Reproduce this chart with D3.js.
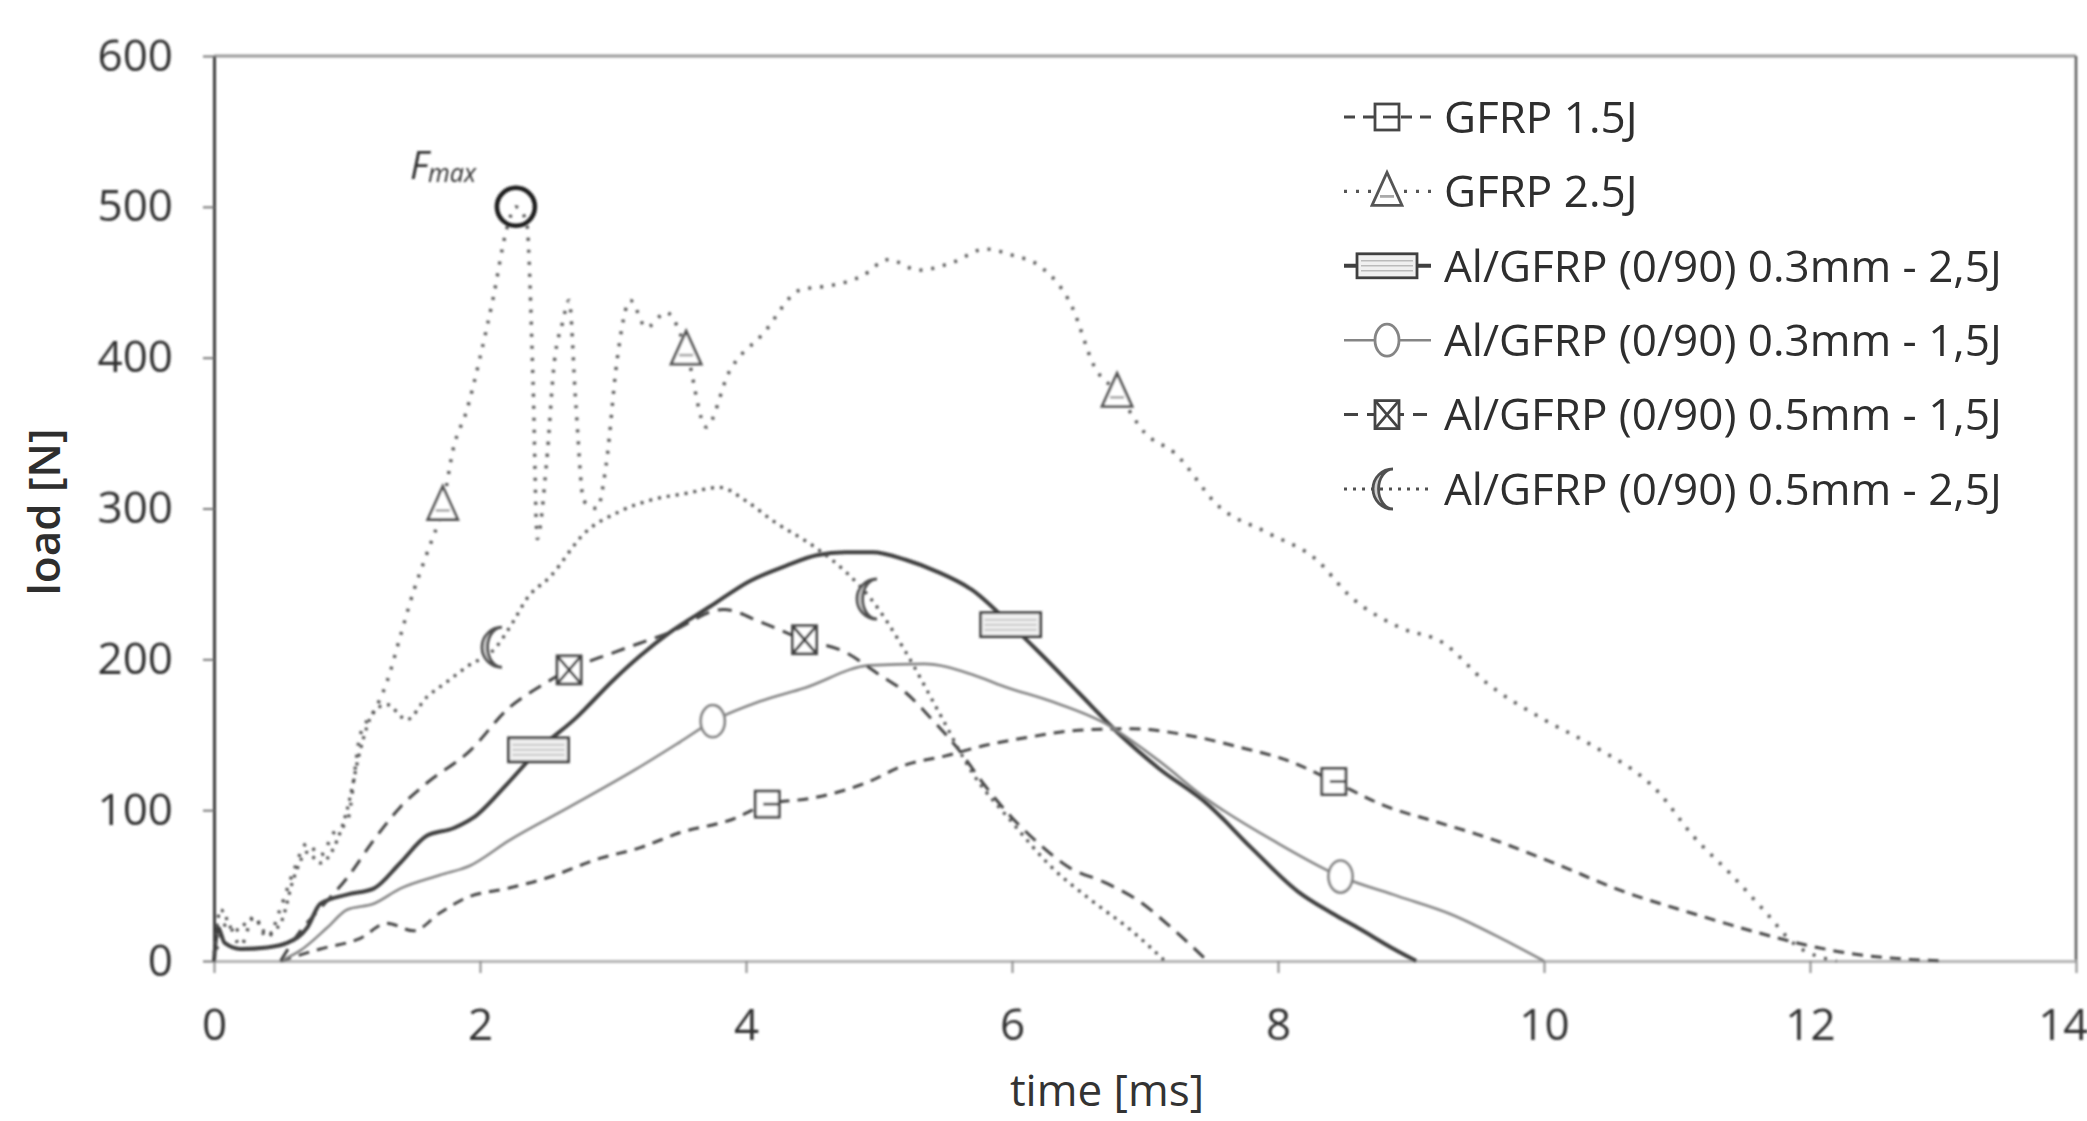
<!DOCTYPE html>
<html>
<head>
<meta charset="utf-8">
<script src="https://cdn.jsdelivr.net/npm/d3@7"></script>
<style>
  body { margin: 0; background: #fff; }
  svg { display: block; font-family: "Open Sans", sans-serif; }
</style>
</head>
<body>
<script>
// load [N] over time [ms]
const seriesNames = [
    "GFRP 1.5J",
    "GFRP 2.5J",
    "Al/GFRP (0/90) 0.3mm - 2,5J",
    "Al/GFRP (0/90) 0.3mm - 1,5J",
    "Al/GFRP (0/90) 0.5mm - 1,5J",
    "Al/GFRP (0/90) 0.5mm - 2,5J"
];

const gfrp15 = [[0.5,0],[0.8,8],[1.1,15],[1.3,25],[1.5,20],[1.7,32],[1.9,42],[2.2,48],[2.5,55],[2.9,68],[3.2,75],[3.5,85],[3.9,94],[4.16,104],[4.5,108],[4.9,118],[5.2,130],[5.5,136],[5.8,143],[6.1,148],[6.5,153],[6.9,154],[7.3,150],[7.7,142],[8.1,132],[8.42,119],[8.8,103],[9.2,92],[9.6,81],[10.1,64],[10.6,46],[11.1,32],[11.6,19],[12.0,10],[12.3,5],[12.6,2],[13.0,0]];
const gfrp25 = [[0,0],[0.1,25],[0.2,10],[0.3,30],[0.4,15],[0.5,35],[0.6,60],[0.7,78],[0.8,70],[0.9,85],[1.0,92],[1.1,150],[1.2,165],[1.3,185],[1.4,215],[1.5,245],[1.6,270],[1.72,302],[1.8,340],[1.9,365],[2.0,400],[2.1,440],[2.2,485],[2.27,500],[2.35,490],[2.4,380],[2.43,280],[2.5,330],[2.56,398],[2.62,423],[2.67,438],[2.72,370],[2.78,305],[2.88,300],[2.95,330],[3.03,398],[3.13,438],[3.25,420],[3.4,430],[3.55,405],[3.7,354],[3.87,390],[4.13,416],[4.41,445],[4.65,448],[4.87,454],[5.07,465],[5.3,458],[5.55,463],[5.8,472],[6.0,468],[6.22,460],[6.45,434],[6.62,394],[6.79,377],[7.0,350],[7.22,337],[7.56,301],[7.92,284],[8.29,266],[8.54,242],[8.92,221],[9.24,211],[9.56,185],[10.0,160],[10.34,144],[10.86,112],[11.12,83],[11.4,58],[11.65,34],[11.9,10],[12.1,2],[12.2,0]];
const al03_25 = [[0,0],[0.03,22],[0.08,12],[0.2,8],[0.4,9],[0.55,12],[0.7,22],[0.8,38],[1.0,44],[1.2,48],[1.4,65],[1.6,83],[1.8,88],[1.95,95],[2.2,117],[2.44,140],[2.72,161],[3.0,186],[3.2,202],[3.43,218],[3.73,235],[4.03,252],[4.3,262],[4.53,269],[4.75,271],[4.95,271],[5.2,266],[5.44,258],[5.7,246],[5.99,223],[6.2,205],[6.5,178],[6.8,151],[7.1,128],[7.47,104],[7.8,75],[8.15,46],[8.4,32],[8.62,21],[8.85,9],[9.04,0]];
const al03_15 = [[0.5,0],[0.65,7],[0.85,22],[1.0,34],[1.2,38],[1.4,48],[1.7,57],[1.92,63],[2.22,80],[2.67,102],[3.17,127],[3.5,145],[3.75,159],[4.1,172],[4.44,181],[4.93,196],[5.34,197],[5.7,190],[5.94,182],[6.3,172],[6.69,158],[7.1,133],[7.47,107],[8.0,78],[8.47,56],[8.9,43],[9.3,31],[9.7,14],[10.0,0]];
const al05_15 = [[0.5,0],[0.65,20],[0.8,35],[1.0,55],[1.2,80],[1.4,102],[1.6,118],[1.92,139],[2.22,168],[2.45,182],[2.67,193],[3.02,205],[3.43,218],[3.83,233],[4.13,224],[4.44,213],[4.74,205],[5.0,190],[5.2,178],[5.39,161],[5.6,140],[5.79,117],[6.0,95],[6.2,78],[6.43,62],[6.7,52],[6.95,40],[7.2,22],[7.47,0]];
const al05_25 = [[0,5],[0.05,34],[0.15,20],[0.3,28],[0.4,18],[0.5,25],[0.6,55],[0.7,72],[0.8,65],[0.9,75],[1.0,100],[1.1,140],[1.2,165],[1.3,170],[1.45,160],[1.6,175],[1.75,185],[1.9,195],[2.12,208],[2.25,225],[2.35,240],[2.53,255],[2.79,284],[3.05,298],[3.3,306],[3.55,310],[3.8,314],[4.0,305],[4.2,292],[4.54,273],[4.75,258],[4.94,240],[5.2,205],[5.45,165],[5.7,125],[6.0,92],[6.3,62],[6.6,40],[6.9,20],[7.15,0]];

// marker positions [t, load] for each series
const gfrp15Marks = [[4.16,104],[8.42,119]];
const gfrp25Marks = [[1.72,302],[3.55,405],[6.79,377]];
const al03_25Marks = [[2.44,140],[5.99,223]];
const al03_15Marks = [[3.75,159],[8.47,56]];
const al05_15Marks = [[2.67,193],[4.44,213]];
const al05_25Marks = [[2.12,208],[4.94,240]];

const fmaxPoint = [2.27, 500];

const xTicks = [0, 2, 4, 6, 8, 10, 12, 14];
const yTicks = [0, 100, 200, 300, 400, 500, 600];

// per-series look
const styles = [
    {stroke: "#474747", width: 3,   dash: "11,8",  marker: "boxE"},
    {stroke: "#555555", width: 3.4, dash: "3,9",   marker: "triangle"},
    {stroke: "#404040", width: 4,   dash: null,    marker: "bar"},
    {stroke: "#858585", width: 2.6, dash: null,    marker: "ellipse"},
    {stroke: "#444444", width: 3,   dash: "14,9",  marker: "bowtie"},
    {stroke: "#505050", width: 3.2, dash: "3,6",   marker: "crescent"}
];

class LoadChart {
    constructor(){
        this._width = 2087;
        this._height = 1121;
        this._margins = {top:56, left:214, right:11, bottom:160};
        this._svg = null;
        this._body = null;
        this._x = null;
        this._y = null;
    }

    getBodyWidth(){
        return this._width - this._margins.left - this._margins.right;
    }

    getBodyHeight(){
        return this._height - this._margins.top - this._margins.bottom;
    }

    marker(g, type, col){
        g.attr('fill', '#fff').attr('stroke', col).attr('stroke-width', 2.8);
        if (type === 'boxE'){
            g.append('rect').attr('x', -12).attr('y', -13).attr('width', 24).attr('height', 26);
            g.append('line').attr('x1', -4).attr('x2', 12).attr('y1', 0).attr('y2', 0);
        } else if (type === 'triangle'){
            g.append('path').attr('d', 'M0,-19L15,14L-15,14Z');
            g.append('line').attr('x1', -7).attr('x2', 7).attr('y1', 5).attr('y2', 5).attr('stroke', '#aaa');
        } else if (type === 'bar'){
            g.append('rect').attr('x', -30).attr('y', -12).attr('width', 60).attr('height', 24).attr('fill', '#f0f0f0');
            [-5, 0, 5].forEach(d => g.append('line').attr('x1', -26).attr('x2', 26)
                .attr('y1', d).attr('y2', d).attr('stroke', '#bbb').attr('stroke-width', 1.5));
        } else if (type === 'ellipse'){
            g.append('ellipse').attr('rx', 12).attr('ry', 16);
        } else if (type === 'bowtie'){
            g.append('rect').attr('x', -12).attr('y', -14).attr('width', 24).attr('height', 28);
            g.append('path').attr('d', 'M-12,-14L12,14M-12,14L12,-14').attr('fill', 'none');
        } else if (type === 'crescent'){
            g.append('path').attr('d', 'M6,-20A20,20 0 0 0 6,20A13,18 0 0 1 6,-20Z').attr('fill', '#d0d0d0');
        }
    }

    renderAxes(){
        let x = this._x, y = this._y, h = this.getBodyHeight(), w = this.getBodyWidth();

        // frame
        this._body.append('line').attr('x1', 0).attr('x2', w).attr('y1', 0).attr('y2', 0)
            .attr('stroke', '#9a9a9a').attr('stroke-width', 3);
        this._body.append('line').attr('x1', w).attr('x2', w).attr('y1', 0).attr('y2', h)
            .attr('stroke', '#5a5a5a').attr('stroke-width', 2.5);

        let xa = this._body.append('g')
            .attr('transform', 'translate(0,' + h + ')')
            .call(d3.axisBottom(x).tickValues(xTicks).tickSize(12).tickSizeOuter(0).tickPadding(36));
        xa.select('.domain').attr('stroke', '#b5b5b5').attr('stroke-width', 3);
        xa.selectAll('.tick line').attr('stroke', '#8a8a8a').attr('stroke-width', 2);
        // last label sits on the right edge
        xa.selectAll('.tick text').filter(d => d === 14).attr('text-anchor', 'end').attr('dx', 12);

        let ya = this._body.append('g')
            .call(d3.axisLeft(y).tickValues(yTicks).tickSize(11).tickSizeOuter(0).tickPadding(30));
        ya.select('.domain').attr('stroke', '#3c3c3c').attr('stroke-width', 3);
        ya.selectAll('.tick line').attr('stroke', '#777').attr('stroke-width', 2);

        this._svg.selectAll('.tick text')
            .attr('font-size', 44).attr('font-family', '"Open Sans", sans-serif').attr('fill', '#333');

        this._svg.append('text')
            .attr('transform', 'translate(' + 60 + ',' + 512 + ') rotate(-90)')
            .attr('text-anchor', 'middle')
            .attr('font-size', 44).attr('font-weight', 600).attr('fill', '#2e2e2e')
            .text('load [N]');

        this._svg.append('text')
            .attr('x', 1107).attr('y', 1106)
            .attr('text-anchor', 'middle')
            .attr('font-size', 44).attr('fill', '#333')
            .text('time [ms]');
    }

    renderLines(){
        let x = this._x, y = this._y;
        let all = [gfrp15, gfrp25, al03_25, al03_15, al05_15, al05_25];
        let marks = [gfrp15Marks, gfrp25Marks, al03_25Marks, al03_15Marks, al05_15Marks, al05_25Marks];
        let line = d3.line().x(d => x(d[0])).y(d => y(d[1])).curve(d3.curveMonotoneX);

        all.forEach((data, i) => {
            let s = styles[i];
            this._body.append('path')
                .attr('d', line(data))
                .attr('fill', 'none')
                .attr('stroke', s.stroke)
                .attr('stroke-width', s.width)
                .attr('stroke-dasharray', s.dash);
        });

        marks.forEach((pts, i) => {
            pts.forEach(p => {
                let g = this._body.append('g')
                    .attr('transform', 'translate(' + x(p[0]) + ',' + y(p[1]) + ')');
                this.marker(g, styles[i].marker, styles[i].stroke);
            });
        });

        // F max
        this._body.append('circle')
            .attr('cx', x(fmaxPoint[0])).attr('cy', y(fmaxPoint[1])).attr('r', 19)
            .attr('fill', 'none').attr('stroke', '#1e1e1e').attr('stroke-width', 4.5);
        let t = this._body.append('text')
            .attr('x', x(fmaxPoint[0]) - 106).attr('y', y(fmaxPoint[1]) - 28)
            .attr('font-style', 'italic').attr('fill', '#333');
        t.append('tspan').attr('font-size', 38).text('F');
        t.append('tspan').attr('font-size', 25).attr('dy', 3).text('max');
    }

    renderLegend(){
        let lg = this._svg.append('g').attr('transform', 'translate(1387,117)');
        seriesNames.forEach((name, i) => {
            let s = styles[i];
            let row = lg.append('g').attr('transform', 'translate(0,' + (i * 74.4) + ')');
            row.append('line').attr('x1', -43).attr('x2', 44).attr('y1', 0).attr('y2', 0)
                .attr('stroke', s.stroke).attr('stroke-width', s.width)
                .attr('stroke-dasharray', s.dash);
            this.marker(row.append('g'), s.marker, s.stroke);
            row.append('text').attr('x', 57).attr('dy', '0.36em')
                .attr('font-size', 44).attr('fill', '#2e2e2e')
                .text(name);
        });
    }

    renderChart(){
        this._svg = d3.select('body').append('svg')
            .attr('width', this._width)
            .attr('height', this._height);

        this._svg.append('defs').append('filter').attr('id', 'soft')
            .append('feGaussianBlur').attr('stdDeviation', 0.8);

        this._x = d3.scaleLinear().domain([0, 14]).range([0, this.getBodyWidth()]);
        this._y = d3.scaleLinear().domain([0, 600]).range([this.getBodyHeight(), 0]);

        this._body = this._svg.append('g')
            .attr('transform', 'translate(' + this._margins.left + ',' + this._margins.top + ')')
            .attr('filter', 'url(#soft)');

        this.renderAxes();
        this.renderLines();
        this.renderLegend();
    }
}

new LoadChart().renderChart();
</script>
</body>
</html>
